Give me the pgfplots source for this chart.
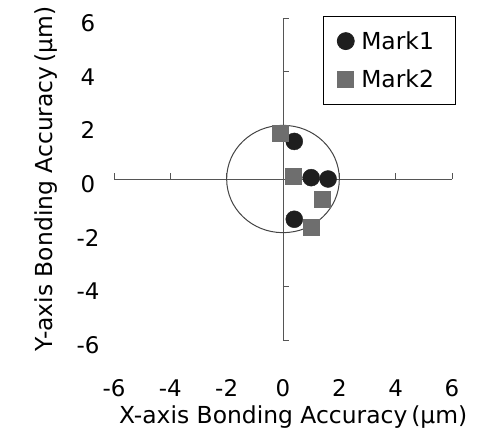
\documentclass[border=0pt]{standalone}
\usepackage{fontspec}
\setmainfont{DejaVu Sans}
\usepackage{pgfplots}
\pgfplotsset{compat=1.18}
\definecolor{markA}{HTML}{1E1E1E}
\definecolor{markB}{HTML}{6E6E6E}
\definecolor{axgray}{HTML}{555555}
\begin{document}
\begin{tikzpicture}
\path[use as bounding box] (-114bp,-108bp) rectangle (382bp,340bp);
% labels-only axis
\begin{axis}[
  scale only axis, width=338bp, height=322bp,
  xmin=-6, xmax=6, ymin=-6, ymax=6,
  axis lines=left, axis line style={draw=none},
  major tick length=0pt, clip=false,
  xtick={-6,-4,...,6}, ytick={-6,-4,...,6},
  /pgf/number format/assume math mode=true,
  tick label style={font=\fontsize{23}{28}\selectfont},
  xticklabel style={anchor=center, yshift=-48bp},
  yticklabel style={anchor=center, xshift=-26bp, yshift=-5bp},
]
\addplot[draw=none] coordinates {(0,0)};
\node[font=\fontsize{23.5}{28}\selectfont] at (axis description cs:0.53,-0.24) {X-axis Bonding Accuracy\,(\textmu m)};
\node[font=\fontsize{23.5}{28}\selectfont, rotate=90] at (axis description cs:-0.2,0.5) {Y-axis Bonding Accuracy\,(\textmu m)};
\end{axis}
% middle axis with data
\begin{axis}[
  scale only axis, width=338bp, height=322bp,
  xmin=-6, xmax=6, ymin=-6, ymax=6,
  axis lines=middle,
  axis line style={-, color=axgray, line width=0.9pt},
  xtick={-6,-4,...,6}, ytick={-6,-4,...,6},
  xticklabels={}, yticklabels={},
  major tick length=6bp, tick align=inside,
  tick style={color=axgray, line width=0.8pt},
  clip=false,
  legend style={at={(axis description cs:0.618,1.006)}, anchor=north west,
    draw=black, line width=0.8pt, font=\fontsize{23.5}{28}\selectfont,
    inner xsep=14bp, inner ysep=13bp, row sep=15bp,
    nodes={inner xsep=7bp}},
  legend cell align=left,
]
\draw[color=axgray!80!black, line width=1pt] (axis cs:0,0) ellipse [x radius=2, y radius=2];
\addplot[only marks, mark=*, mark size=8.5bp, color=markA] coordinates {
 (0.4,1.4) (1.0,0.05) (1.6,0.0) (0.4,-1.5)
};
\addlegendentry{Mark1}
\addplot[only marks, mark=square*, mark size=8bp, color=markB] coordinates {
 (-0.1,1.7) (0.35,0.1) (1.4,-0.75) (1.0,-1.8)
};
\addlegendentry{Mark2}
\end{axis}
\end{tikzpicture}
\end{document}
